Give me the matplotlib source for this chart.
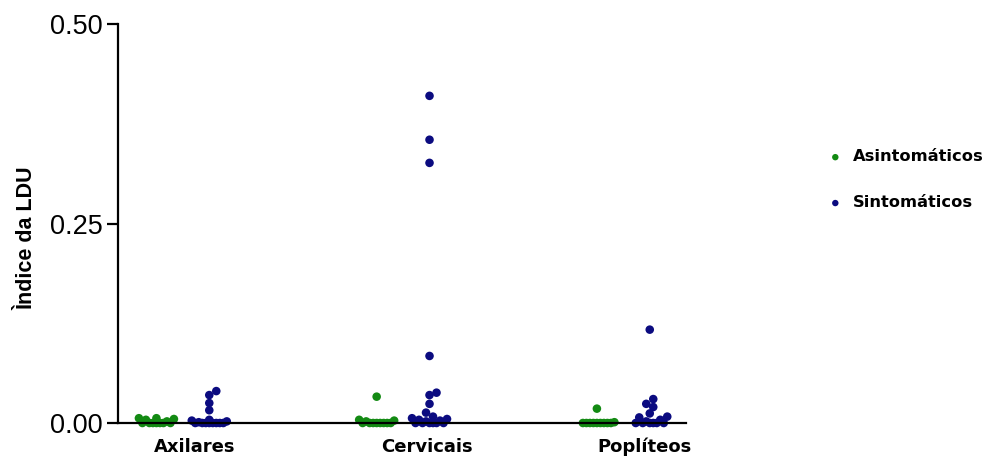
import numpy as np
import matplotlib
matplotlib.use('Agg')
import matplotlib.pyplot as plt

groups = ['Axilares', 'Cervicais', 'Poplíteos']
series = ['Asintomáticos', 'Sintomáticos']
colors = ['#138a13', '#0b0b80']

# LDU index per lymph node group
asint_axilares = [0.006, 0.005, 0.006, 0.004, 0.002, 0, 0, 0, 0, 0, 0, 0]
asint_cervicais = [0.033, 0.004, 0.003, 0.002, 0, 0, 0, 0, 0, 0, 0, 0]
asint_popliteos = [0.018, 0.001, 0, 0, 0, 0, 0, 0, 0, 0, 0]
sint_axilares = [0.040, 0.035, 0.025, 0.016, 0.004, 0.003, 0.002, 0.001,
                 0, 0, 0, 0, 0, 0, 0, 0]
sint_cervicais = [0.41, 0.355, 0.326, 0.084, 0.038, 0.035, 0.024, 0.013,
                  0.008, 0.006, 0.005, 0.004, 0.003, 0.002, 0, 0, 0, 0, 0, 0]
sint_popliteos = [0.117, 0.030, 0.024, 0.020, 0.012, 0.008, 0.007, 0.004,
                  0.002, 0, 0, 0, 0, 0, 0]

data = [[asint_axilares, asint_cervicais, asint_popliteos],
        [sint_axilares, sint_cervicais, sint_popliteos]]
offsets = [-0.12, 0.12]
label_shift = [0.055, 0.11, 0.095]

fig = plt.figure(figsize=(9.99, 4.57), dpi=100)
ax = fig.add_axes([0.118, 0.0744, 0.569, 0.873])
ax.set_xlim(-0.295, 2.286)
ax.set_ylim(0, 0.5)


def swarm(xc, values, ax, dist=7.0, half_width=18.0, step=3.5):
    # simple beeswarm in pixel space, points overlap once the band is full
    placed = []
    xs = np.zeros(len(values))
    order = np.argsort(values)
    cands = [0.0]
    k = 1
    while k * step <= half_width:
        cands += [k * step, -k * step]
        k += 1
    for i in order:
        px, py = ax.transData.transform((xc, values[i]))
        best, best_d = None, -1
        for c in cands:
            if placed:
                d = min(np.hypot(px + c - qx, py - qy) for qx, qy in placed)
            else:
                d = np.inf
            if d >= dist:
                best = c
                break
            if d > best_d:
                best, best_d = c, d
        placed.append((px + best, py))
        xs[i] = ax.transData.inverted().transform((px + best, py))[0]
    return xs


for s, name in enumerate(series):
    for g in range(len(groups)):
        vals = np.array(data[s][g])
        xs = swarm(g + offsets[s], vals, ax)
        ax.scatter(xs, vals, s=38, color=colors[s], edgecolors='none',
                   clip_on=False, zorder=1, label=name if g == 0 else None)

for side in ['top', 'right']:
    ax.spines[side].set_visible(False)
for side in ['left', 'bottom']:
    ax.spines[side].set_linewidth(1.6)

ax.set_yticks([0, 0.25, 0.5])
ax.set_yticklabels(['0.00', '0.25', '0.50'], fontsize=19.5, family='Liberation Sans')
ax.tick_params(axis='y', length=8, width=1.6, pad=3)
ax.set_xticks([g + label_shift[g] for g in range(len(groups))])
ax.set_xticklabels(groups, fontsize=13, fontweight='bold', family='DejaVu Sans',
                   va='baseline')
ax.tick_params(axis='x', length=0, pad=21)
ax.set_ylabel('Ìndice da LDU', fontsize=15.5, fontweight='bold', family='Liberation Sans')
ax.yaxis.set_label_coords(-0.142, 0.464)

ax.legend(loc='upper left', bbox_to_anchor=(0.815, 0.705), bbox_transform=fig.transFigure,
          frameon=False, prop={'family': 'DejaVu Sans', 'weight': 'bold', 'size': 11.7},
          markerscale=0.75, handletextpad=0.7, labelspacing=1.9, handlelength=0.8)

fig.savefig('out.png', dpi=100)
